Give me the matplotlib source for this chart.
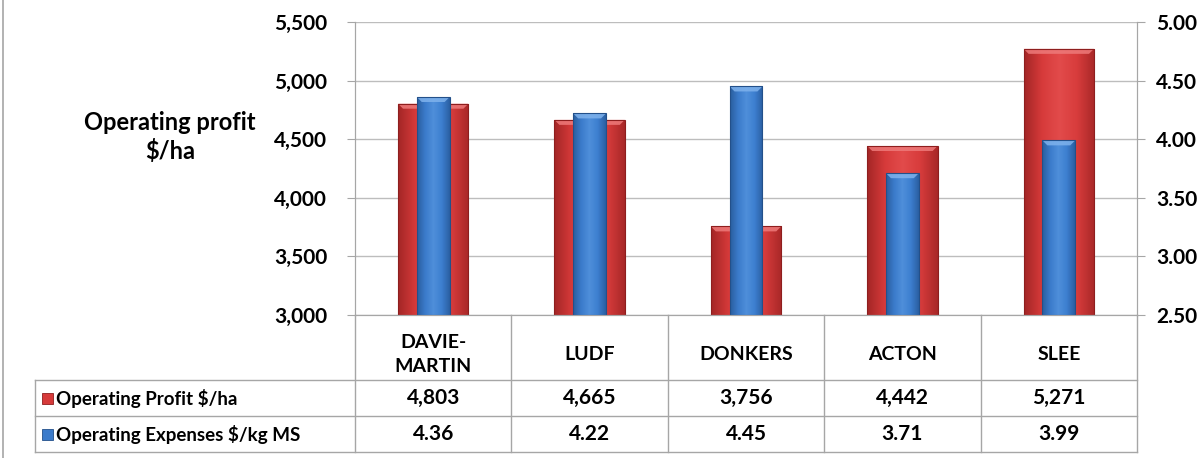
import numpy as np
import matplotlib
matplotlib.use("Agg")
import matplotlib.pyplot as plt
from matplotlib.colors import LinearSegmentedColormap
from matplotlib.patches import Rectangle, Polygon

plt.rcParams["font.family"] = ["Lato", "DejaVu Sans"]
plt.rcParams["font.weight"] = "bold"

# data
farms = ["DAVIE-\nMARTIN", "LUDF", "DONKERS", "ACTON", "SLEE"]
profit = [4803, 4665, 3756, 4442, 5271]
expenses = [4.36, 4.22, 4.45, 3.71, 3.99]
profit_labels = ["4,803", "4,665", "3,756", "4,442", "5,271"]
expense_labels = ["4.36", "4.22", "4.45", "3.71", "3.99"]
left_ticks = [3000, 3500, 4000, 4500, 5000, 5500]
right_ticks = [2.5, 3.0, 3.5, 4.0, 4.5, 5.0]

RED_CMAP = LinearSegmentedColormap.from_list(
    "red", ["#A32626", "#D63A3A", "#E24B4B", "#D83C3C", "#A82828"])
BLUE_CMAP = LinearSegmentedColormap.from_list(
    "blue", ["#2A5E9E", "#3B7BCB", "#4F8FDA", "#3D7FD0", "#2B5FA2"])
GRID = "#BDBDBD"
LINE = "#A6A6A6"
W, H = 1200, 458
PLOT_W, PLOT_H = 782, 293


def shade(ax, bars, cmap, edge, bevel):
    # cylinder-ish shading clipped to the visible part of each bar,
    # plus a light chamfer on top like the Excel bevel effect
    grad = np.linspace(0, 1, 128).reshape(1, -1)
    ylo, yhi = ax.get_ylim()
    xlo, xhi = ax.get_xlim()
    dy = (yhi - ylo) / PLOT_H
    dx = (xhi - xlo) / PLOT_W
    for b in bars:
        x0, y0, w, h = b.get_x(), b.get_y(), b.get_width(), b.get_height()
        lo = max(y0, ylo)
        top = y0 + h
        b.set_visible(False)
        clip = Rectangle((x0, lo), w, top - lo, transform=ax.transData)
        im = ax.imshow(grad, extent=[x0, x0 + w, lo, top], aspect="auto",
                       cmap=cmap, zorder=2.1, interpolation="bilinear")
        im.set_clip_path(clip)
        ax.add_patch(Polygon([(x0, top), (x0 + w, top),
                              (x0 + w - 5 * dx, top - 5 * dy),
                              (x0 + 5 * dx, top - 5 * dy)],
                             closed=True, facecolor=bevel, edgecolor="none",
                             alpha=0.85, zorder=2.15))
        ax.add_patch(Rectangle((x0, lo), w, top - lo, fill=False,
                               edgecolor=edge, lw=0.8, zorder=2.2))


fig = plt.figure(figsize=(12, 4.58), dpi=100)
ax = fig.add_axes([355 / W, 1 - 315 / H, PLOT_W / W, PLOT_H / H])
ax2 = ax.twinx()
ax.set_facecolor("none")

x = np.arange(len(farms))
red_bars = ax.bar(x, profit, width=0.45, color="#D63A3A", zorder=2)
blue_bars = ax2.bar(x, expenses, width=0.21, color="#3B7BCB", zorder=2)

ax.set_xlim(-0.5, len(farms) - 0.5)
ax.set_ylim(3000, 5500)
ax2.set_ylim(2.5, 5.0)
shade(ax, red_bars, RED_CMAP, "#8E1E1E", "#EE7A7A")
shade(ax2, blue_bars, BLUE_CMAP, "#23508A", "#7FB2EC")
ax.set_xlim(-0.5, len(farms) - 0.5)
ax.set_ylim(3000, 5500)
ax2.set_ylim(2.5, 5.0)

ax.set_yticks(left_ticks)
ax.set_yticklabels([f"{v:,}" for v in left_ticks], fontsize=15)
ax2.set_yticks(right_ticks)
ax2.set_yticklabels([f"{v:.2f}" for v in right_ticks], fontsize=15)
ax.set_xticks([])
ax.grid(axis="y", color=GRID, lw=1)
ax.set_axisbelow(True)
for a in (ax, ax2):
    a.spines["top"].set_visible(False)
    for s in ("left", "right", "bottom"):
        a.spines[s].set_color(LINE)
ax.tick_params(axis="y", length=6, color=LINE, pad=14)
ax2.tick_params(axis="y", length=6, color=LINE, pad=8)

fig.text(170 / W, 1 - 137 / H, "Operating profit\n$/ha", ha="center",
         va="center", fontsize=17, fontweight="bold", linespacing=1.25)

# data table drawn underneath the plot area
tab = fig.add_axes([0, 0, 1, 1], zorder=-1)
tab.set_xlim(0, W)
tab.set_ylim(H, 0)
tab.axis("off")

to_px = lambda xv: (fig.transFigure.inverted().transform(
    ax.transData.transform((xv, 3000)))[0]) * W
edges = [to_px(i - 0.5) for i in range(len(farms) + 1)]
centres = [to_px(i) for i in range(len(farms))]

y_top, y_cat, y_r1, y_r2 = 315, 380, 416, 452
left = 35
for e in edges:
    tab.plot([e, e], [y_top, y_r2], color=LINE, lw=1)
tab.plot([left, left], [y_cat, y_r2], color=LINE, lw=1)
for yy in (y_cat, y_r1, y_r2):
    tab.plot([left, edges[-1]], [yy, yy], color=LINE, lw=1)

for c, name, p, e in zip(centres, farms, profit_labels, expense_labels):
    tab.text(c, 354, name, ha="center", va="center",
             fontsize=14, linespacing=1.5)
    tab.text(c, (y_cat + y_r1) / 2, p, ha="center", va="center", fontsize=15)
    tab.text(c, (y_r1 + y_r2) / 2, e, ha="center", va="center", fontsize=15)

for (y0, y1), col, edge, label in [
        ((y_cat, y_r1), "#D63A3A", "#8E1E1E", "Operating Profit $/ha"),
        ((y_r1, y_r2), "#3B7BCB", "#23508A", "Operating Expenses $/kg MS")]:
    yc = (y0 + y1) / 2
    tab.add_patch(Rectangle((42, yc - 5), 11, 11, facecolor=col,
                            edgecolor=edge, lw=0.6))
    tab.text(56, yc, label, ha="left", va="center", fontsize=13.5)

tab.plot([3, 3], [0, H], color=LINE, lw=1.2)

fig.savefig("out.png", dpi=100)
